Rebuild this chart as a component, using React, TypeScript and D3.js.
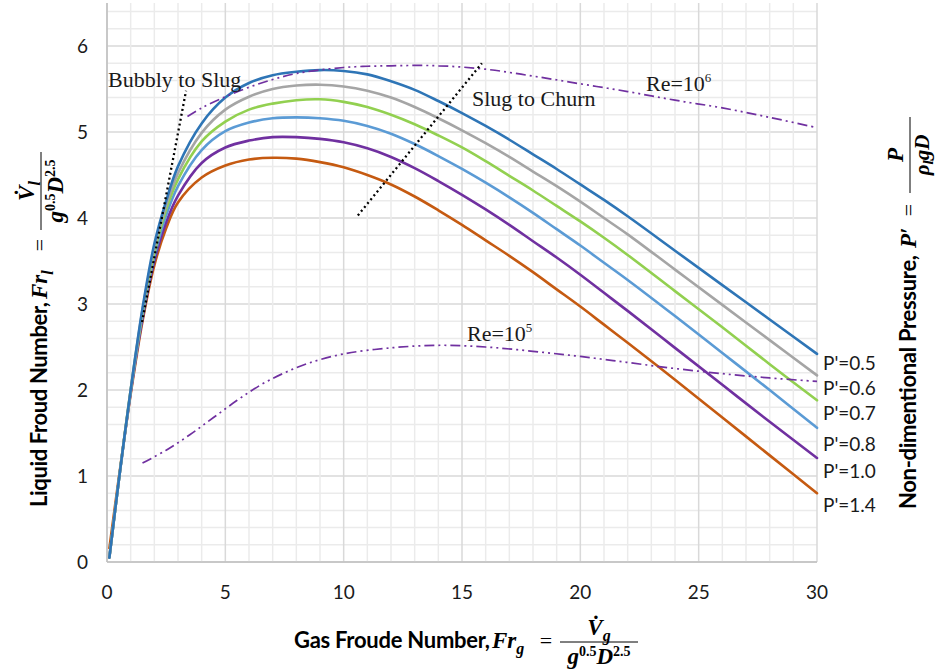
import React from 'react';
import * as d3 from 'd3';

// Gas Froude number sample points shared by all pressure curves
const FR_G = [0.1, 0.5, 1, 1.5, 2, 2.5, 3, 4, 5, 6, 7, 8, 9, 10, 11, 12, 13, 14, 15, 16, 17, 18, 19, 20, 21, 22, 24, 26, 28, 30];

// Liquid Froude number for each non-dimensional pressure
const P05 = [0.05, 0.95, 2.0, 2.95, 3.7, 4.2, 4.6, 5.1, 5.4, 5.57, 5.66, 5.7, 5.72, 5.71, 5.67, 5.59, 5.49, 5.36, 5.22, 5.07, 4.91, 4.74, 4.57, 4.39, 4.21, 4.02, 3.62, 3.22, 2.82, 2.42];
const P06 = [0.05, 0.95, 2.0, 2.93, 3.65, 4.15, 4.52, 4.99, 5.26, 5.41, 5.5, 5.54, 5.55, 5.53, 5.48, 5.4, 5.29, 5.16, 5.02, 4.87, 4.71, 4.54, 4.37, 4.19, 4.0, 3.81, 3.4, 2.99, 2.58, 2.17];
const P07 = [0.05, 0.95, 2.0, 2.9, 3.6, 4.1, 4.45, 4.89, 5.12, 5.26, 5.33, 5.37, 5.38, 5.35, 5.29, 5.2, 5.09, 4.96, 4.82, 4.66, 4.49, 4.32, 4.14, 3.96, 3.77, 3.57, 3.15, 2.73, 2.3, 1.88];
const P08 = [0.05, 0.95, 1.98, 2.87, 3.55, 4.03, 4.37, 4.79, 5.01, 5.11, 5.16, 5.17, 5.16, 5.13, 5.07, 4.98, 4.86, 4.72, 4.57, 4.41, 4.24, 4.06, 3.87, 3.68, 3.48, 3.28, 2.86, 2.43, 2.0, 1.56];
const P10 = [0.05, 0.95, 1.97, 2.83, 3.5, 3.95, 4.26, 4.64, 4.82, 4.9, 4.94, 4.94, 4.92, 4.88, 4.81, 4.71, 4.58, 4.43, 4.27, 4.1, 3.92, 3.73, 3.54, 3.34, 3.13, 2.92, 2.49, 2.06, 1.63, 1.21];
const P14 = [0.16, 0.98, 1.95, 2.8, 3.45, 3.88, 4.18, 4.47, 4.61, 4.68, 4.7, 4.69, 4.65, 4.59, 4.5, 4.39, 4.25, 4.09, 3.92, 3.74, 3.56, 3.37, 3.17, 2.97, 2.76, 2.55, 2.12, 1.68, 1.24, 0.8];

const SERIES = [P05, P06, P07, P08, P10, P14];
const SERIES_NAMES = ["P'=0.5", "P'=0.6", "P'=0.7", "P'=0.8", "P'=1.0", "P'=1.4"];
const SERIES_COLORS = ['#2e75b6', '#a5a5a5', '#92d050', '#5b9bd5', '#7030a0', '#c55a11'];
// vertical placement of the series names beside the right edge (in Fr_l units)
const NAME_LEVELS = [2.31, 2.02, 1.73, 1.37, 1.06, 0.66];

// constant Reynolds number lines
const RE6_X = [3.4, 4, 5, 6, 7, 8, 10, 12, 14, 16, 18, 20, 22, 24, 26, 28, 30];
const RE6_Y = [5.18, 5.28, 5.41, 5.52, 5.61, 5.68, 5.75, 5.77, 5.77, 5.73, 5.65, 5.56, 5.47, 5.37, 5.28, 5.17, 5.05];
const RE5_X = [1.5, 2.5, 3.5, 4.5, 5.5, 6.5, 7.5, 8.5, 10, 12, 14, 16, 18, 20, 22, 24, 26, 28, 30];
const RE5_Y = [1.15, 1.3, 1.48, 1.68, 1.88, 2.06, 2.2, 2.31, 2.42, 2.49, 2.52, 2.5, 2.45, 2.39, 2.32, 2.25, 2.19, 2.14, 2.1];

// flow regime transition boundaries
const BUBBLY_SLUG_X = [1.48, 3.34];
const BUBBLY_SLUG_Y = [2.79, 5.48];
const SLUG_CHURN_X = [10.6, 15.84];
const SLUG_CHURN_Y = [4.03, 5.8];

const X_TICKS = [0, 5, 10, 15, 20, 25, 30];
const Y_TICKS = [0, 1, 2, 3, 4, 5, 6];

const W = 937;
const H = 672;
const SANS = 'Lato, "Open Sans", sans-serif';
const SERIF = '"Liberation Serif", "Times New Roman", serif';

const x = d3.scaleLinear().domain([0, 30]).range([107, 817]);
const y = d3.scaleLinear().domain([0, 6.5]).range([562, 3]);

const line = d3
  .line<[number, number]>()
  .x((d) => x(d[0]))
  .y((d) => y(d[1]))
  .curve(d3.curveCatmullRom.alpha(0.5));

const zip = (xs: number[], ys: number[]): [number, number][] => xs.map((v, i) => [v, ys[i]]);

// "Label, Sym = numerator / denominator" laid out along a baseline
function MathTitle(props: {
  transform: string;
  label: string;
  labelWidth: number;
  symAt: number;
  sym: React.ReactNode;
  eqAt: number;
  fracFrom: number;
  fracTo: number;
  num: React.ReactNode;
  den: React.ReactNode;
  denDy?: number;
  denSize?: number;
}) {
  const { transform, label, labelWidth, symAt, sym, eqAt, fracFrom, fracTo, num, den } = props;
  const denDy = props.denDy ?? 16;
  const denSize = props.denSize ?? 23;
  const mid = (fracFrom + fracTo) / 2;
  return (
    <g transform={transform} fill="#000">
      <text
        x={0}
        y={0}
        fontFamily={SANS}
        fontWeight={700}
        fontSize={22}
        textLength={labelWidth}
        lengthAdjust="spacing"
      >
        {label}
      </text>
      <text x={symAt} y={0} fontFamily={SERIF} fontWeight={700} fontStyle="italic" fontSize={23}>
        {sym}
      </text>
      <text x={eqAt} y={0} textAnchor="middle" fontFamily={SERIF} fontSize={22}>
        =
      </text>
      <line x1={fracFrom} x2={fracTo} y1={-6} y2={-6} stroke="#000" strokeWidth={1} />
      <text x={mid} y={-13} textAnchor="middle" fontFamily={SERIF} fontWeight={700} fontStyle="italic" fontSize={23}>
        {num}
      </text>
      <text x={mid} y={denDy} textAnchor="middle" fontFamily={SERIF} fontWeight={700} fontStyle="italic" fontSize={denSize}>
        {den}
      </text>
    </g>
  );
}

const gD = (
  <>
    <tspan>g</tspan>
    <tspan fontSize={14} fontStyle="normal" dy={-8}>0.5</tspan>
    <tspan dy={8}>D</tspan>
    <tspan fontSize={14} fontStyle="normal" dy={-8}>2.5</tspan>
  </>
);

export default function App() {
  const minorX = d3.range(0, 31, 1);
  const minorY = d3.range(0, 33, 1).map((k) => k * 0.2).filter((v) => v <= 6.45);

  return (
    <svg
      width={W}
      height={H}
      viewBox={`0 0 ${W} ${H}`}
      style={{ position: 'absolute', left: 0, top: 0, background: '#fff' }}
    >
      <rect width={W} height={H} fill="#fff" />

      {/* grid */}
      <g>
        {minorY.map((v) => {
          const major = Math.abs(v - Math.round(v)) < 1e-6;
          return (
            <line
              key={'gy' + v}
              x1={x(0)}
              x2={x(30)}
              y1={y(v)}
              y2={y(v)}
              stroke={major ? '#d9d9d9' : '#ebebeb'}
              strokeWidth={1.5}
            />
          );
        })}
        {minorX.map((v) => (
          <line
            key={'gx' + v}
            x1={x(v)}
            x2={x(v)}
            y1={y(0)}
            y2={y(6.5)}
            stroke={v % 5 === 0 ? '#d9d9d9' : '#ebebeb'}
            strokeWidth={1.5}
          />
        ))}
        <line x1={x(0)} x2={x(0)} y1={y(0)} y2={y(6.5)} stroke="#bfbfbf" strokeWidth={1.5} />
        <line x1={x(0)} x2={x(30)} y1={y(0)} y2={y(0)} stroke="#bfbfbf" strokeWidth={1.5} />
      </g>

      {/* tick labels */}
      <g fontFamily={SANS} fontSize={19} fill="#1a1a1a">
        {Y_TICKS.map((t) => (
          <text key={'yt' + t} x={x(0) - 19} y={y(t) + 7} textAnchor="end">
            {t}
          </text>
        ))}
        {X_TICKS.map((t) => (
          <text key={'xt' + t} x={x(t)} y={y(0) + 37} textAnchor="middle">
            {t}
          </text>
        ))}
      </g>

      {/* pressure curves */}
      <g fill="none" strokeWidth={2.6} strokeLinecap="round" strokeLinejoin="round">
        {SERIES.slice()
          .reverse()
          .map((vals, ri) => {
            const i = SERIES.length - 1 - ri;
            return <path key={SERIES_NAMES[i]} d={line(zip(FR_G, vals)) || ''} stroke={SERIES_COLORS[i]} />;
          })}
      </g>

      {/* Reynolds number lines */}
      <g fill="none" stroke="#7030a0" strokeWidth={1.7} strokeDasharray="10 4 2 4 2 4">
        <path d={line(zip(RE6_X, RE6_Y)) || ''} />
        <path d={line(zip(RE5_X, RE5_Y)) || ''} />
      </g>

      {/* regime boundaries */}
      <g fill="none" stroke="#000" strokeWidth={2.3} strokeDasharray="2 3">
        <path d={d3.line()(zip(BUBBLY_SLUG_X, BUBBLY_SLUG_Y).map((d) => [x(d[0]), y(d[1])])) || ''} />
        <path d={d3.line()(zip(SLUG_CHURN_X, SLUG_CHURN_Y).map((d) => [x(d[0]), y(d[1])])) || ''} />
      </g>

      {/* annotations */}
      <g fontFamily={SERIF} fontSize={22} fill="#1a1a1a">
        <text x={108} y={87}>Bubbly to Slug</text>
        <text x={472} y={106}>Slug to Churn</text>
        <text x={646} y={91}>
          Re=10<tspan fontSize={13} dy={-9}>6</tspan>
        </text>
        <text x={467} y={341}>
          Re=10<tspan fontSize={13} dy={-9}>5</tspan>
        </text>
      </g>

      {/* series names */}
      <g fontFamily={SANS} fontSize={19} fill="#1a1a1a">
        {SERIES_NAMES.map((n, i) => (
          <text key={n} x={823} y={y(NAME_LEVELS[i]) + 7}>
            {n}
          </text>
        ))}
      </g>

      {/* axis titles */}
      <MathTitle
        transform="translate(294,648)"
        label="Gas Froude Number,"
        labelWidth={196}
        symAt={198}
        sym={
          <>
            Fr<tspan fontSize={16} dy={6}>g</tspan>
          </>
        }
        eqAt={252}
        fracFrom={266}
        fracTo={344}
        num={
          <>
            V̇<tspan fontSize={16} dy={6}>g</tspan>
          </>
        }
        den={gD}
      />
      <MathTitle
        transform="translate(47,507) rotate(-90)"
        label="Liquid Froud Number,"
        labelWidth={205}
        symAt={208}
        sym={
          <>
            Fr<tspan fontSize={16} dy={6}>l</tspan>
          </>
        }
        eqAt={262}
        fracFrom={277}
        fracTo={355}
        num={
          <>
            V̇<tspan fontSize={16} dy={6}>l</tspan>
          </>
        }
        den={gD}
      />
      <MathTitle
        transform="translate(916,509) rotate(-90)"
        label="Non-dimentional Pressure,"
        labelWidth={254}
        symAt={261}
        sym={<>P′</>}
        eqAt={299}
        fracFrom={316}
        fracTo={392}
        num={<>P</>}
        denDy={13}
        denSize={21}
        den={
          <>
            ρ<tspan fontSize={15} dy={4}>l</tspan>
            <tspan dy={-4}>gD</tspan>
          </>
        }
      />
    </svg>
  );
}
